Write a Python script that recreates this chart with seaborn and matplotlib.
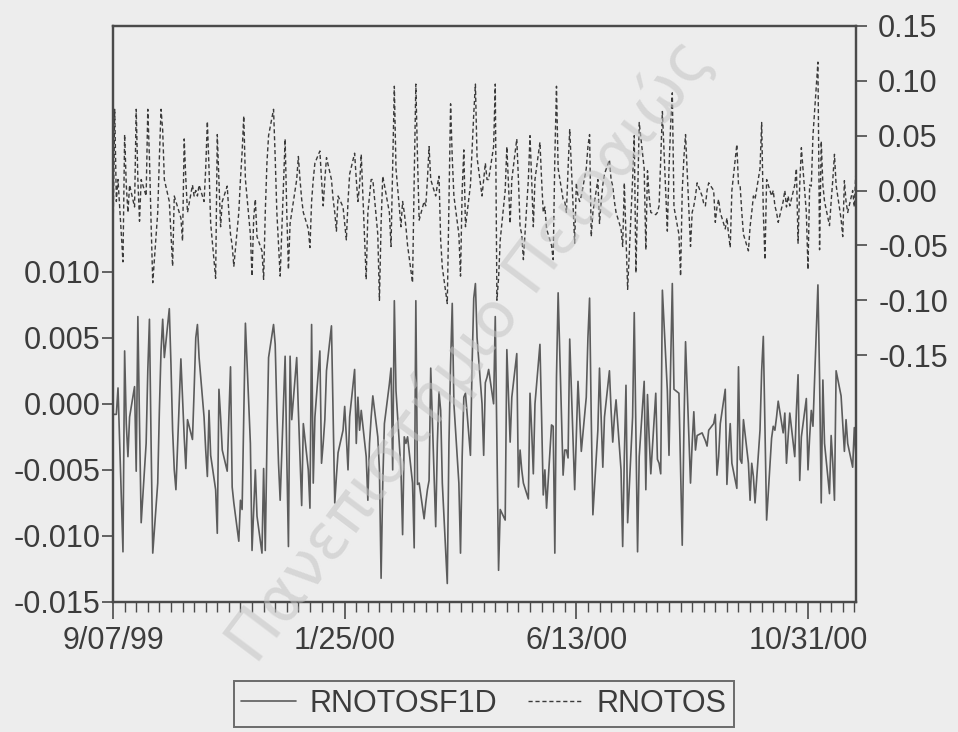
import numpy as np
import pandas as pd
import matplotlib
matplotlib.use("Agg")
import matplotlib.pyplot as plt
import matplotlib.dates as mdates
import seaborn as sns

# --- data (daily, business days from 9/07/99) ---
start_date = "1999-09-07"

# RNOTOSF1D, left axis, values in 1e-3
rnotosf1d_k = [
    -0.8, -0.8, -0.8, 1.2, -11.2, 4.0, -1.5, -4.0, -1.0, 1.3,
    -5.1, 6.6, -1.5, -9.0, -3.0, 2.5, 6.4, -3.0, -11.3, -6.0,
    -0.5, 4.0, 6.4, 3.5, 7.2, 3.0, -2.0, -5.0, -6.5, 3.4,
    0.5, -2.5, -4.9, -1.2, -2.7, 1.0, 5.0, 6.0, 3.5, -1.0,
    -3.5, -5.5, -0.5, -3.9, -6.5, -9.8, 1.1, -1.0, -3.5, -5.1,
    -1.0, 2.8, -6.3, -7.5, -10.4, -7.3, -8.0, -1.0, 6.1, -3.0,
    -11.1, -8.0, -5.0, -8.5, -11.3, -4.9, -11.1, -3.0, 3.5, 6.0,
    4.5, -0.5, -4.5, -7.3, 3.6, -4.0, -10.8, 3.6, -1.2, 3.5,
    -0.5, -4.0, -7.7, -1.5, -5.0, -7.9, 6.0, -6.0, -1.0, 4.0,
    -4.5, -3.0, -1.2, 2.5, 5.9, -1.0, -7.5, -5.5, -3.7, -2.0,
    -0.2, -2.5, -5.0, -1.0, 2.6, -3.0, 0.5, -2.0, -0.5, -4.0,
    -7.3, -3.0, -1.0, 0.6, -2.5, -5.0, -13.2, -6.0, -1.5, 1.5,
    2.7, -5.0, 7.8, 1.0, -5.0, -9.9, -2.5, -3.0, -2.5, -6.0,
    -10.9, 7.8, -6.1, -6.0, -8.7, -7.5, -6.5, -5.8, 2.7, -9.3,
    -3.0, 0.9, -0.5, -6.0, -13.6, -3.0, 3.0, 7.6, 0.0, -6.0,
    -11.3, -4.0, 0.5, 0.8, -3.9, 3.0, 8.0, 9.1, 5.0, 0.0,
    -3.9, 1.6, 2.0, 2.6, 0.0, 6.6, -3.0, -12.6, -8.0, -8.8,
    4.1, 0.5, -2.9, 0.5, 3.8, -6.3, -3.5, -5.0, -6.0, -7.2,
    0.8, -2.0, -5.3, 0.0, 4.5, -1.0, -6.9, -5.0, -7.9, -1.6,
    -1.7, -11.3, 2.0, 8.4, -5.4, -3.5, -3.5, -4.1, 4.9, -6.5,
    -2.5, 1.7, -1.0, -3.6, 0.5, 5.0, 8.0, -1.0, -8.4, -2.0,
    2.7, -1.0, -4.8, -1.0, 2.5, -0.5, -2.9, -1.0, 0.3, -5.0,
    -10.8, -4.0, 1.4, -9.0, -1.0, 6.9, -2.0, -11.2, -4.0, 1.7,
    -6.5, 0.7, -2.5, -5.3, 0.8, -4.2, -4.5, -5.3, 8.6, 1.0,
    -3.9, 3.0, 9.1, 1.1, 0.8, -5.0, -10.7, -2.0, 4.7, -6.0,
    -3.0, -0.6, -3.5, -2.4, -2.2, -2.5, -2.8, -3.2, -2.0, -1.5,
    -0.8, -5.4, -4.0, -1.5, 1.1, -6.1, -3.5, -1.5, -4.5, -6.4,
    2.8, -4.2, -4.5, -1.2, -4.5, -7.3, -4.5, -5.5, -7.5, -2.0,
    2.5, 5.1, -2.0, -8.8, -2.6, -1.7, -2.0, -1.0, 0.2, -2.2,
    -0.7, -4.5, -2.5, -0.7, -4.0, -0.5, 2.2, -5.8, -2.5, 0.4,
    -5.0, -2.5, -0.5, -1.7, 9.0, 2.0, -7.5, 1.8, -3.0, -6.8,
    -2.4, -4.5, -7.3, 2.5, 0.6, -1.5, -3.6, -1.2, -3.0, -4.8,
    -1.8, -4.0,
]

# RNOTOS, right axis, values in 1e-2
rnotos_c = [
    -4.0, 7.4, -1.0, 1.0, -6.5, 5.1, 0.5, -2.0, 0.5, -1.5,
    7.4, 1.0, -2.8, 1.0, -0.5, 7.4, 3.0, -3.0, -8.4, -2.0,
    3.0, 7.4, 5.5, 1.0, -1.0, -4.0, -6.9, -0.5, -1.0, -2.5,
    -4.6, 4.7, 1.0, -2.0, 0.5, -0.5, 0.0, -0.5, 0.5, -1.0,
    2.0, 6.3, 2.0, -3.0, -8.0, 5.1, 1.0, -3.3, -1.0, 0.4,
    -2.0, -4.0, -5.0, -6.9, -2.0, 1.0, 3.5, 6.8, 1.0, -4.0,
    -7.8, -2.5, -0.8, -4.2, -5.5, -8.1, -2.0, 2.5, 5.0, 7.4,
    3.0, -2.0, -5.0, -7.8, 4.7, -2.0, -7.2, -3.0, -2.0, 1.0,
    3.1, 1.0, -0.8, -2.0, -3.5, -5.2, -1.0, 1.0, 2.5, 3.6,
    1.0, -1.4, 1.0, 3.0, 1.0, -0.8, -2.0, -3.7, -0.5, -1.5,
    -3.0, -4.5, -1.0, 1.5, 3.4, 1.0, -1.0, 0.5, 3.3, -8.1,
    -2.0, -0.5, 1.0, 1.0, -4.0, -10.0, -3.0, 1.3, 0.5, -2.0,
    -5.1, 2.0, 9.5, 2.0, -3.3, -1.0, -2.0, -3.3, -5.0, -8.4,
    1.0, 9.7, 3.0, -2.7, -1.0, -1.4, 1.0, 4.0, 1.0, -0.5,
    0.5, 1.3, -4.5, -7.0, -10.3, -1.0, 7.9, 3.0, -0.5, -4.0,
    -7.8, 0.0, 3.7, -3.3, 0.5, 3.7, 7.0, 9.7, 3.0, -0.5,
    1.0, 2.5, 1.0, 1.0, 4.0, 9.7, -10.0, -8.0, -4.5, 0.0,
    4.0, 0.5, -3.0, 1.0, 4.7, 1.0, -3.3, -4.0, -6.3, 1.0,
    5.0, 1.0, -3.3, 1.0, 4.4, 1.0, -2.0, -1.5, -3.5, -5.0,
    -6.3, 3.0, 9.5, 2.0, -0.8, -1.0, -2.0, 2.0, 5.6, -4.8,
    0.7, -0.5, -1.0, -0.5, 2.0, 4.0, 5.1, -4.2, -2.0, 1.0,
    -3.0, -1.0, 0.5, 1.5, 2.8, 1.0, 0.4, -1.0, -2.0, -3.5,
    -5.1, 0.7, -4.0, -9.0, 1.0, 5.0, -7.5, -1.0, 6.2, 2.0,
    -5.4, 1.8, -0.5, -2.0, -2.2, -2.0, -1.4, 3.0, 7.2, -3.7,
    2.0, 6.0, 8.9, -1.5, -4.0, -7.8, 0.0, 3.0, 5.1, -5.1,
    -2.0, -1.4, -0.5, 0.7, -0.5, -1.2, -1.4, 0.0, 0.7, 0.0,
    -2.9, -1.5, -0.8, -2.0, -3.5, -2.5, -4.0, -5.2, 0.0, 4.2,
    0.5, 0.4, -2.0, -4.0, -5.5, -3.3, -2.0, -0.5, -0.8, 2.0,
    6.2, -2.0, -6.3, 1.0, -0.5, 0.0, -1.4, -2.0, -2.9, -1.0,
    0.0, -1.5, -0.5, -1.4, 0.5, 2.0, -4.8, 0.5, 3.9, -2.0,
    -7.2, 0.5, 0.4, 5.0, 11.7, -5.4, 4.5, 0.5, -1.0, -3.2,
    -1.0, 1.0, 3.3, 0.5, -2.6, -4.2, 0.9, -1.0, -2.0, 0.0,
    -1.5, 1.9,
]

date_ticks = ["1999-09-07", "2000-01-25", "2000-06-13", "2000-10-31"]
date_labels = ["9/07/99", "1/25/00", "6/13/00", "10/31/00"]
left_ticks = [-0.015, -0.010, -0.005, 0.000, 0.005, 0.010]
right_ticks = [-0.15, -0.10, -0.05, 0.00, 0.05, 0.10, 0.15]

n = len(rnotosf1d_k)
df = pd.DataFrame({
    "date": pd.bdate_range(start_date, periods=n),
    "RNOTOSF1D": np.array(rnotosf1d_k) / 1000,
    "RNOTOS": np.array(rnotos_c) / 100,
})

# --- style ---
bg = "#ededed"
ink = "#4a4a4a"
txt = "#3c3c3c"
sns.set_theme(style="white")
plt.rcParams["font.family"] = ["Liberation Sans", "DejaVu Sans"]
plt.rcParams["axes.facecolor"] = bg
plt.rcParams["figure.facecolor"] = bg

fig = plt.figure(figsize=(9.58, 7.32), dpi=100)
ax = fig.add_axes([0.118, 0.1776, 0.7755, 0.787])
ax2 = ax.twinx()

sns.lineplot(data=df, x="date", y="RNOTOSF1D", ax=ax, color="#5c5c5c",
             linewidth=1.2, label="RNOTOSF1D", legend=False)
sns.lineplot(data=df, x="date", y="RNOTOS", ax=ax2, color="#3a3a3a",
             linewidth=1.0, linestyle=(0, (3, 2)), label="RNOTOS", legend=False)

ax.set_xlim(df["date"].iloc[0], df["date"].iloc[-1])
ax.set_ylim(-0.015, 0.0286)
ax2.set_ylim(-0.375, 0.15)

ax.set_yticks(left_ticks)
ax.set_yticklabels([f"{v:.3f}" for v in left_ticks])
ax2.set_yticks(right_ticks)
ax2.set_yticklabels([f"{v:.2f}" for v in right_ticks])
ax.set_xticks(pd.to_datetime(date_ticks))
ax.set_xticklabels(date_labels)
ax.xaxis.set_minor_locator(mdates.WeekdayLocator(byweekday=mdates.TU))

ax.set_xlabel("")
ax.set_ylabel("")
ax2.set_ylabel("")

for a in (ax, ax2):
    for s in a.spines.values():
        s.set_color(ink)
        s.set_linewidth(1.6)
ax.tick_params(axis="y", which="major", direction="out", length=8, width=1.2,
               color=ink, labelsize=22, labelcolor=txt, pad=1, left=True)
ax2.tick_params(axis="y", which="major", direction="out", length=8, width=1.2,
                color=ink, labelsize=22, labelcolor=txt, pad=8, right=True)
ax.tick_params(axis="x", which="major", direction="out", length=12, width=1.2,
               color=ink, labelsize=22, labelcolor=txt, pad=5, bottom=True)
ax.tick_params(axis="x", which="minor", direction="out", length=7, width=1.0,
               color=ink, bottom=True)

# legend box under the axis
h1, l1 = ax.get_legend_handles_labels()
h2, l2 = ax2.get_legend_handles_labels()
leg = fig.legend(h1 + h2, l1 + l2, loc="center", bbox_to_anchor=(484 / 958, 1 - 704 / 732),
                 ncol=2, frameon=True, fancybox=False, fontsize=22, handlelength=1.8,
                 columnspacing=1.0, handletextpad=0.45, borderpad=0.25)
leg.get_frame().set_edgecolor(ink)
leg.get_frame().set_linewidth(1.4)
leg.get_frame().set_facecolor(bg)
for t in leg.get_texts():
    t.set_color(txt)

# scan watermark
fig.text(0.49, 0.52, "Πανεπιστήμιο Πειραιώς", rotation=53, rotation_mode="anchor",
         ha="center", va="center", fontsize=46, color="#c4c4c4", alpha=0.55,
         family=["DejaVu Sans"], zorder=5)

fig.savefig("out.png", dpi=100, facecolor=bg)
